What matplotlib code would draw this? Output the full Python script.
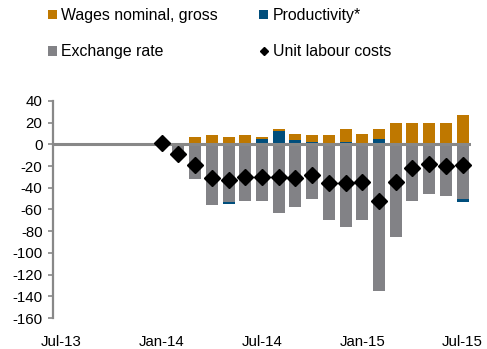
import numpy as np
import pandas as pd
import matplotlib
matplotlib.use('Agg')
import matplotlib.pyplot as plt
from matplotlib.patches import Patch
from matplotlib.lines import Line2D

plt.rcParams['font.family'] = ['Liberation Sans', 'DejaVu Sans']
plt.rcParams['axes.unicode_minus'] = False

# Monthly contributions to unit labour costs, Jan-14 .. Jul-15
months = pd.period_range('2014-01', '2015-07', freq='M')
wages = [2, 1, 7, 9, 7, 9, 2, 2, 6, 7, 8, 12, 9, 9, 19, 19, 20, 20, 27]
productivity = [0, -2, 0, 0, -2, 0, 5, 12, 4, 2, 1, 2, 1, 5, 1, 1, 0, 0, -3]
exchange = [-1, -8, -32, -56, -53, -52, -52, -63, -58, -50,
            -70, -76, -70, -135, -85, -52, -46, -48, -50]
ulc = [1, -9, -19, -31, -33, -30, -30, -30, -31, -28,
       -36, -36, -35, -52, -35, -22, -18, -20, -19]

# full axis runs Jul-13 .. Jul-15, ticks every six months
axis_months = pd.period_range('2013-07', '2015-07', freq='M')
tick_idx = np.arange(0, len(axis_months), 6)
tick_labels = [axis_months[i].strftime('%b-%y') for i in tick_idx]

x = np.array([axis_months.get_loc(m) for m in months])

c_wages = '#BF7800'
c_prod = '#004E7C'
c_exch = '#828286'

fig = plt.figure(figsize=(4.87, 3.49), dpi=100)
ax = fig.add_axes([53 / 487, 31 / 349, 418 / 487, 217 / 349])

# stacked bars: positives grow up from zero, negatives grow down
pos = np.zeros(len(x))
neg = np.zeros(len(x))
for vals, col in [(exchange, c_exch), (productivity, c_prod), (wages, c_wages)]:
    vals = np.array(vals, dtype=float)
    up = np.where(vals > 0, vals, 0)
    down = np.where(vals < 0, vals, 0)
    ax.bar(x, up, bottom=pos, width=0.72, color=col, linewidth=0, zorder=2)
    ax.bar(x, down, bottom=neg, width=0.72, color=col, linewidth=0, zorder=2)
    pos += up
    neg += down

ax.axhline(0, color='#888888', linewidth=2.2, zorder=3)
ax.plot(x, ulc, linestyle='none', marker='D', markersize=8.5,
        color='black', zorder=4)

ax.set_xlim(-0.5, 24.5)
ax.set_ylim(-160, 40)
ax.set_yticks(np.arange(-160, 41, 20))
ax.set_xticks(tick_idx)
ax.set_xticklabels(tick_labels)

for side in ['top', 'right', 'bottom']:
    ax.spines[side].set_visible(False)
ax.spines['left'].set_color('#888888')
ax.spines['left'].set_linewidth(1.6)
ax.tick_params(axis='y', length=3.5, width=1.2, color='#888888', pad=4,
               labelsize=10.8)
ax.tick_params(axis='x', length=0, pad=12, labelsize=10.8)

handles = [Patch(facecolor=c_wages), Patch(facecolor=c_exch),
           Patch(facecolor=c_prod),
           Line2D([], [], linestyle='none', marker='D', markersize=4.5,
                  color='black')]
labels = ['Wages nominal, gross', 'Exchange rate',
          'Productivity*', 'Unit labour costs']
fig.legend(handles, labels, ncol=2, loc='upper left',
           bbox_to_anchor=(48 / 487, 1 - 8 / 349), frameon=False,
           fontsize=11.4, borderpad=0, borderaxespad=0,
           handlelength=0.55, handleheight=0.55, handletextpad=0.3,
           labelspacing=1.35, columnspacing=2.6)

fig.savefig('out.png', dpi=100)
